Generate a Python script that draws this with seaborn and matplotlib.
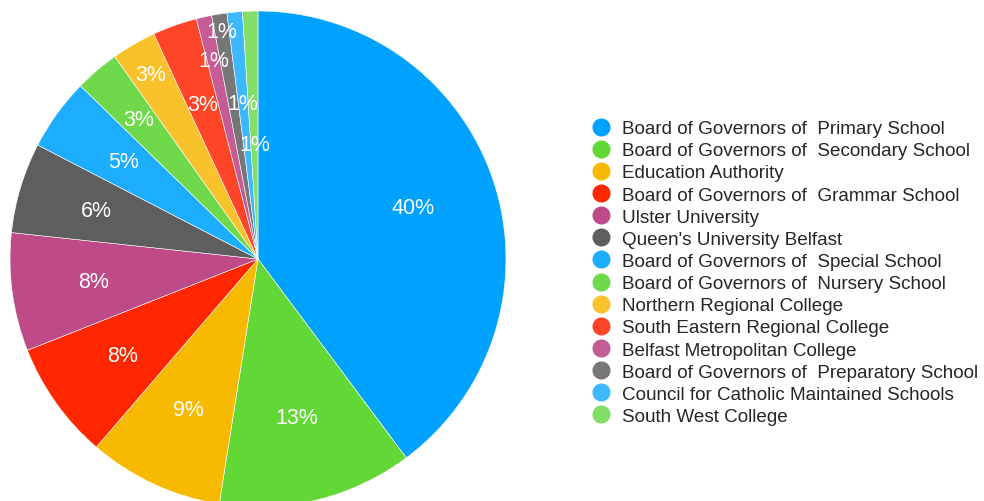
import matplotlib
matplotlib.use('Agg')
import matplotlib.pyplot as plt
from matplotlib.lines import Line2D
import seaborn as sns
import numpy as np

# data
labels = ['Board of Governors of  Primary School',
          'Board of Governors of  Secondary School',
          'Education Authority',
          'Board of Governors of  Grammar School',
          'Ulster University',
          "Queen's University Belfast",
          'Board of Governors of  Special School',
          'Board of Governors of  Nursery School',
          'Northern Regional College',
          'South Eastern Regional College',
          'Belfast Metropolitan College',
          'Board of Governors of  Preparatory School',
          'Council for Catholic Maintained Schools',
          'South West College']
shares = [39.8, 12.7, 8.8, 7.7, 7.7, 5.9, 4.7, 2.9, 2.9, 2.9, 1.0, 1.0, 1.0, 1.0]
colors = ['#00A2FF', '#61D836', '#F8BA00', '#FF2600', '#BE4B87', '#5E5E5E',
          '#1DADFF', '#6FD94B', '#F9C22A', '#FF4527', '#C55C96', '#767676',
          '#3DB8FF', '#82DE66']
# radial position of each percentage label (fraction of radius)
label_radius = [0.66, 0.66, 0.67, 0.67, 0.67, 0.68, 0.67, 0.74, 0.86, 0.66,
                0.82, 0.93, 0.63, 0.46]

sns.set_theme(style='white')
plt.rcParams['font.family'] = ['Liberation Sans', 'DejaVu Sans']

fig = plt.figure(figsize=(9.84, 5.02), dpi=100)
ax = fig.add_axes([10 / 984, -6 / 502, 496 / 984, 496 / 502])

wedges, texts, autotexts = ax.pie(
    shares, colors=sns.color_palette(colors), startangle=90, counterclock=False,
    autopct='%.0f%%', pctdistance=0.67, radius=1,
    wedgeprops=dict(edgecolor='white', linewidth=0.4),
    textprops=dict(color='white', fontsize=15.5))

# move the labels along their wedge to mimic the staggered layout
for w, t, r in zip(wedges, autotexts, label_radius):
    ang = np.deg2rad((w.theta1 + w.theta2) / 2)
    t.set_position((r * np.cos(ang), r * np.sin(ang)))

ax.set_xlim(-1, 1)
ax.set_ylim(-1, 1)
ax.axis('off')

handles = [Line2D([0], [0], marker='o', linestyle='', markersize=12,
                  markerfacecolor=c, markeredgecolor=c) for c in colors]
fig.legend(handles, labels, loc='upper left', bbox_to_anchor=(592 / 984, 1 - 121 / 502),
           frameon=False, fontsize=13.6, labelspacing=0.26, handletextpad=0.6,
           handlelength=1.0, borderpad=0, borderaxespad=0)

fig.savefig('out.png', dpi=100)
